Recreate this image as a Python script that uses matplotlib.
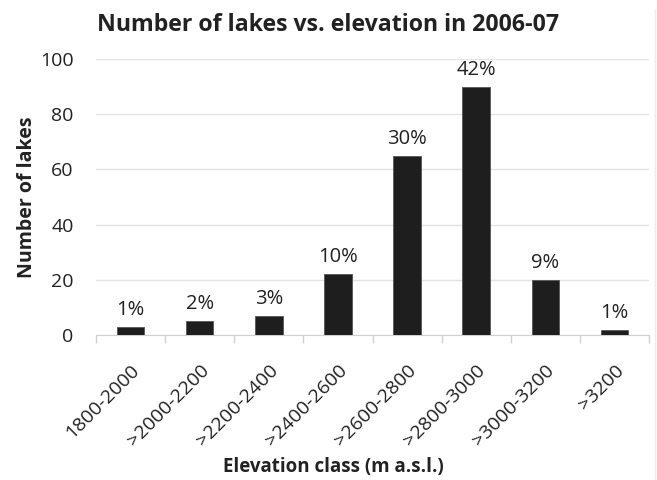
import numpy as np
import matplotlib.pyplot as plt
from matplotlib.lines import Line2D

# ----------------------------
# Dados
# ----------------------------
classes = ['1800-2000', '>2000-2200', '>2200-2400', '>2400-2600',
           '>2600-2800', '>2800-3000', '>3000-3200', '>3200']
n_lagos = [3, 5, 7, 22, 65, 90, 20, 2]
percent = ['1%', '2%', '3%', '10%', '30%', '42%', '9%', '1%']

plt.rcParams['font.family'] = ['Open Sans', 'DejaVu Sans']

fig = plt.figure(figsize=(6.57, 4.80), dpi=100)
ax = fig.add_axes([0.146, 0.302, 0.842, 0.575])

x = np.arange(len(classes))
bars = ax.bar(x, n_lagos, width=0.4, color='#1e1e1e', edgecolor='#555555',
              linewidth=0.6, zorder=3)

# rótulos de percentagem
for b, p in zip(bars, percent):
    ax.annotate(p, (b.get_x() + b.get_width() / 2, b.get_height()),
                xytext=(0, 5), textcoords='offset points',
                ha='center', va='bottom', fontsize=14.5, color='#222222')

ax.set_ylim(0, 100)
ax.set_yticks(np.arange(0, 101, 20))
ax.set_xlim(-0.5, len(classes) - 0.5)
ax.yaxis.grid(True, color='#e3e3e3', linewidth=1, zorder=0)

# separadores de categoria no eixo x
ax.set_xticks(np.arange(-0.5, len(classes) + 0.5, 1))
ax.set_xticklabels([])
ax.tick_params(axis='x', which='major', length=6, color='#d0d0d0', width=1)
ax.set_xticks(x, minor=True)
ax.set_xticklabels(classes, minor=True, rotation=45, ha='right',
                   rotation_mode='anchor', fontsize=14, color='#222222')
ax.tick_params(axis='x', which='minor', length=0, pad=19)
ax.tick_params(axis='y', length=0, labelsize=14, labelcolor='#222222', pad=16)

for s in ['top', 'right', 'left']:
    ax.spines[s].set_visible(False)
ax.spines['bottom'].set_color('#d0d0d0')

ax.set_ylabel('Number of lakes', fontsize=14, fontweight='bold',
              color='#222222')
ax.yaxis.set_label_coords((27 - 96) / (649 - 96), 0.5)
ax.yaxis.label.set_va('center')
ax.set_xlabel('Elevation class (m a.s.l.)', fontsize=13.5, fontweight='bold',
              color='#222222')
ax.xaxis.set_label_coords((333 - 96) / (649 - 96), (335 - 467) / (335 - 59))
ax.xaxis.label.set_va('center')
fig.suptitle('Number of lakes vs. elevation in 2006-07', fontsize=16.7,
             fontweight='bold', color='#222222', x=(97 + 560) / 2 / 657,
             y=1 - 25 / 480, va='center')

# borda clara à direita
fig.add_artist(Line2D([655 / 657, 655 / 657], [0, 1 - 10 / 480],
                      transform=fig.transFigure, color='#ededed', linewidth=1))

fig.savefig('out.png', dpi=100)
